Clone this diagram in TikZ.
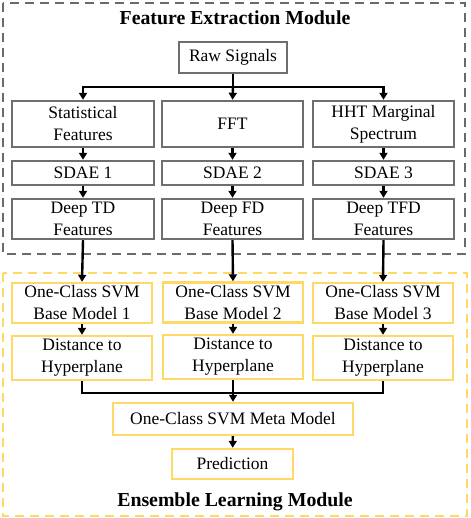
\documentclass[tikz,border=0pt]{standalone}
\usepackage{fontspec}
\setmainfont{Liberation Serif}
\usetikzlibrary{arrows.meta}
\definecolor{boxgray}{HTML}{6E6E6E}
\definecolor{dashgray}{HTML}{6A6A6A}
\definecolor{gold}{HTML}{FFD966}
\tikzset{
  gbox/.style={draw=boxgray, line width=2.4pt, align=center, inner sep=0pt,
    font=\fontsize{17.5}{22}\selectfont},
  ybox/.style={draw=gold, line width=2.4pt, align=center, inner sep=0pt,
    font=\fontsize{17.5}{22}\selectfont},
  conn/.style={line width=2.4pt, black},
  arr/.style={conn, -{Triangle[width=8pt,length=7pt]}},
  modtitle/.style={font=\fontsize{19.8}{24}\selectfont\bfseries},
}
\begin{document}
\begin{tikzpicture}[x=1pt,y=-1pt]
\useasboundingbox (0,0) rectangle (470,518);
% module frames
\draw[dashgray, line width=2.4pt, dash pattern=on 9pt off 6pt] (3,3) rectangle (465,254);
\draw[gold, line width=2.4pt, dash pattern=on 9pt off 6pt] (3,273) rectangle (467,516);
\node[modtitle] (t1) at (235,18) {Feature Extraction Module};
\node[modtitle] (t2) at (235,502) {Ensemble Learning Module};
% feature extraction
\node[gbox, minimum width=108pt, minimum height=31pt] (raw) at (233,57.5) {Raw Signals};
\node[gbox, minimum width=142pt, minimum height=46pt] (stat) at (83,124) {Statistical\\Features};
\node[gbox, minimum width=141pt, minimum height=46pt] (fft) at (232.5,124) {FFT};
\node[gbox, minimum width=141pt, minimum height=46pt] (hht) at (383.5,124) {HHT Marginal\\Spectrum};
\node[gbox, minimum width=142pt, minimum height=24pt] (s1) at (83,173) {SDAE 1};
\node[gbox, minimum width=141pt, minimum height=24pt] (s2) at (232.5,173) {SDAE 2};
\node[gbox, minimum width=141pt, minimum height=24pt] (s3) at (383.5,173) {SDAE 3};
\node[gbox, minimum width=142pt, minimum height=40pt] (d1) at (83,219) {Deep TD\\Features};
\node[gbox, minimum width=141pt, minimum height=40pt] (d2) at (232.5,219) {Deep FD\\Features};
\node[gbox, minimum width=141pt, minimum height=40pt] (d3) at (383.5,219) {Deep TFD\\Features};
% ensemble
\node[ybox, minimum width=140pt, minimum height=40pt] (b1) at (82,303) {One-Class SVM\\Base Model 1};
\node[ybox, minimum width=140pt, minimum height=40pt] (b2) at (233,302.5) {One-Class SVM\\Base Model 2};
\node[ybox, minimum width=140pt, minimum height=40pt] (b3) at (383,303) {One-Class SVM\\Base Model 3};
\node[ybox, minimum width=140pt, minimum height=44pt] (h1) at (82,358) {Distance to\\Hyperplane};
\node[ybox, minimum width=140pt, minimum height=44pt] (h2) at (233,357) {Distance to\\Hyperplane};
\node[ybox, minimum width=140pt, minimum height=44pt] (h3) at (383,358) {Distance to\\Hyperplane};
\node[ybox, minimum width=240pt, minimum height=32pt] (meta) at (233,419) {One-Class SVM Meta Model};
\node[ybox, minimum width=121pt, minimum height=30pt] (pred) at (232.5,464) {Prediction};
% connectors
\coordinate (bus) at (233,87);
\draw[conn] (raw.south) -- (bus);
\draw[arr] (bus) -| (stat.north);
\draw[arr] (bus) -- (fft.north);
\draw[arr] (bus) -| (hht.north);
\draw[arr] (stat) -- (s1);
\draw[arr] (fft) -- (s2);
\draw[arr] (hht) -- (s3);
\draw[arr] (s1) -- (d1);
\draw[arr] (s2) -- (d2);
\draw[arr] (s3) -- (d3);
\draw[arr] (d1.south) -- (b1.north);
\draw[arr] (d2.south) -- (b2.north);
\draw[arr] (d3.south) -- (b3.north);
\draw[arr] (b1) -- (h1);
\draw[arr] (b2) -- (h2);
\draw[arr] (b3) -- (h3);
\coordinate (mrg) at (233,393);
\draw[conn] (h1.south) |- (mrg);
\draw[conn] (h3.south) |- (mrg);
\draw[arr] (h2.south) -- (meta.north);
\draw[arr] (meta) -- (pred);
\end{tikzpicture}
\end{document}
